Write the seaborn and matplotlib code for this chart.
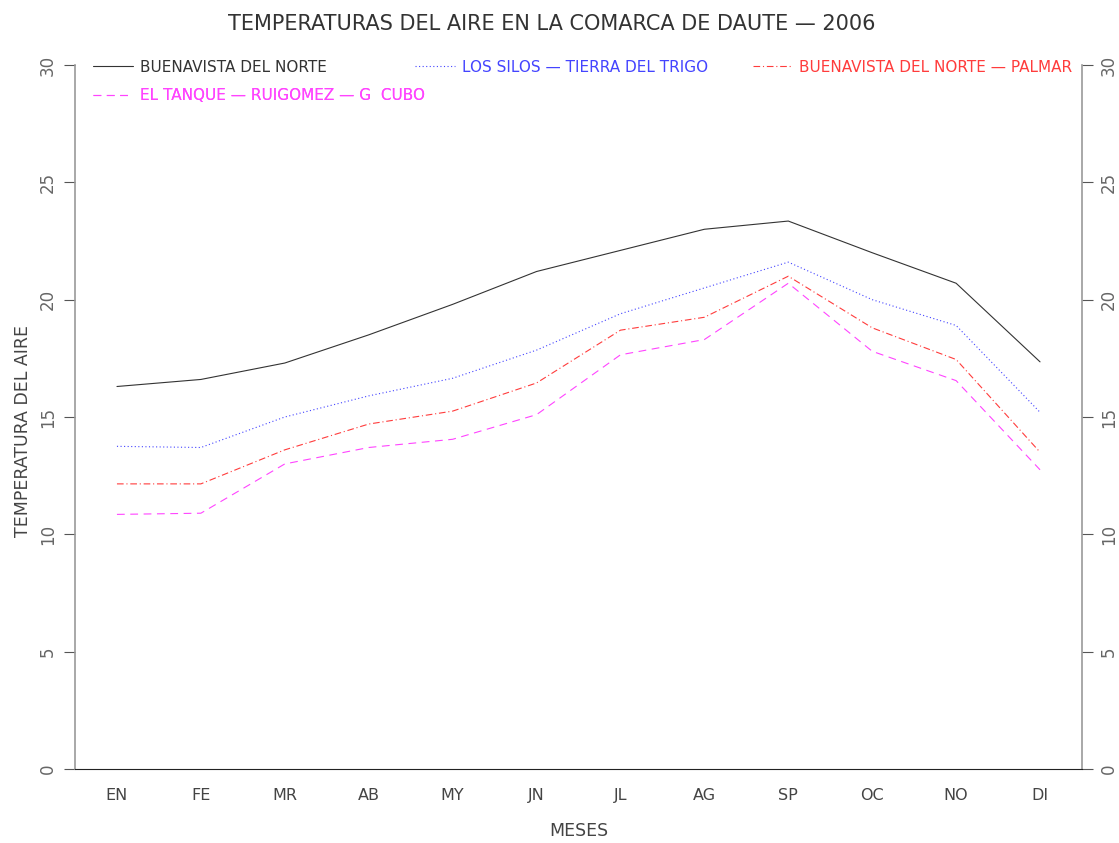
import numpy as np
import pandas as pd
import matplotlib
matplotlib.use("Agg")
import matplotlib.pyplot as plt
from matplotlib.ticker import MultipleLocator
import seaborn as sns

# ── Data ────────────────────────────────────────────────────────────────────
months = ["EN", "FE", "MR", "AB", "MY", "JN", "JL", "AG", "SP", "OC", "NO", "DI"]

buenavista      = [16.3, 16.6, 17.3, 18.5, 19.8, 21.2, 22.1, 23.0, 23.35, 22.0, 20.7, 17.35]
los_silos       = [13.75, 13.7, 15.0, 15.9, 16.65, 17.85, 19.4, 20.5, 21.6, 20.0, 18.9, 15.2]
buenavista_palm = [12.15, 12.15, 13.6, 14.7, 15.25, 16.45, 18.7, 19.25, 21.0, 18.8, 17.45, 13.5]
el_tanque       = [10.85, 10.9, 13.0, 13.7, 14.05, 15.1, 17.65, 18.3, 20.7, 17.8, 16.55, 12.75]

series_names = ["BUENAVISTA DEL NORTE",
                "LOS SILOS \u2014 TIERRA DEL TRIGO",
                "BUENAVISTA DEL NORTE \u2014 PALMAR",
                "EL TANQUE \u2014 RUIGOMEZ \u2014 G  CUBO"]

# ── Style ───────────────────────────────────────────────────────────────────
sns.set_style("white")
plt.rcParams["font.family"] = ["DejaVu Sans"]

colors = ["#333333", "#4444ff", "#ff3c3c", "#ff44ff"]
dashes = [(None, None), (1, 2.2), (6, 2.5, 1, 2.5), (7, 5)]
# legend anchor for each series (axes fraction): three on row 1, one on row 2
legend_pos = [(0.018, 0.997), (0.338, 0.997), (0.673, 0.997), (0.018, 0.956)]

df = pd.DataFrame({
    "mes": months * 4,
    "temp": buenavista + los_silos + buenavista_palm + el_tanque,
    "serie": sum([[n] * len(months) for n in series_names], []),
})

fig = plt.figure(figsize=(11.19, 8.43), dpi=100)
ax = fig.add_axes([75 / 1119, 74 / 843, 1007 / 1119, 704 / 843])

handles = []
for name, col, ds in zip(series_names, colors, dashes):
    sub = df[df["serie"] == name]
    sns.lineplot(data=sub, x="mes", y="temp", ax=ax, color=col,
                 linewidth=0.8, sort=False)
    if ds[0] is not None:
        ax.lines[-1].set_dashes(ds)
    handles.append(ax.lines[-1])

# ── Axes ────────────────────────────────────────────────────────────────────
ax.set_xlim(-0.5, 11.5)
ax.set_ylim(0, 30)
ax.set_xticks(range(len(months)))
ax.set_xticklabels(months)
ax.xaxis.set_minor_locator(MultipleLocator(1, offset=0.5))
ax.tick_params(axis="x", which="major", length=0, pad=14, labelsize=11.5,
               labelcolor="#444444")
ax.tick_params(axis="x", which="minor", length=8, direction="out",
               color="#333333", width=0.8)

ax.set_yticks(range(0, 31, 5))
ax.tick_params(axis="y", left=True, right=True, labelleft=True,
               labelright=True, length=8, direction="out", width=0.8,
               color="#555555", labelsize=12, labelcolor="#666666",
               labelrotation=90, pad=5)
for lbl in ax.get_yticklabels():
    lbl.set_va("center")

for side in ["left", "right"]:
    ax.spines[side].set_color("#999999")
    ax.spines[side].set_linewidth(1.2)
ax.spines["bottom"].set_color("#222222")
ax.spines["bottom"].set_linewidth(0.8)
ax.spines["top"].set_visible(False)

ax.set_xlabel("MESES", fontsize=12.5, color="#444444", labelpad=13)
ax.set_ylabel("TEMPERATURA DEL AIRE", fontsize=12.5, color="#444444")
ax.yaxis.set_label_coords(-0.043, 0.48)

fig.text(0.493, 0.972, "TEMPERATURAS DEL AIRE EN LA COMARCA DE DAUTE \u2014 2006",
         ha="center", va="center", fontsize=15, color="#333333")

# ── Legend: one small legend per series so each sits where the original does
for h, name, pos in zip(handles, series_names, legend_pos):
    leg = ax.legend([h], [name], loc="center left", bbox_to_anchor=pos,
                    frameon=False, labelcolor="linecolor", fontsize=11,
                    handlelength=2.6, handletextpad=0.45, borderpad=0,
                    borderaxespad=0)
    ax.add_artist(leg)

plt.savefig("out.png", dpi=100)
plt.close()
